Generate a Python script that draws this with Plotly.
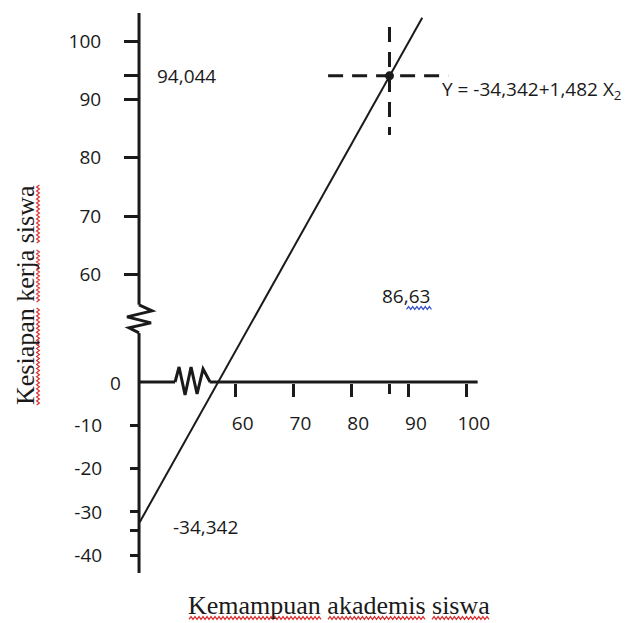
import plotly.graph_objects as go

# ---- data ----
x_ticks = [60, 70, 80, 90, 100]
y_upper_ticks = [60, 70, 80, 90, 100]
y_lower_ticks = [-10, -20, -30, -40]
intercept = -34.342
slope = 1.482
x_point = 86.63
y_point = 94.044
# regression line as drawn (upper y scale)
line_x = [43.4, 92.3]
line_y = [17.6, 104.0]
# axis geometry (data units)
y_axis_x = 43.26
y_axis_upper = [104.8, 54.8]   # upper scale
y_axis_lower = [11.3, -44.1]   # lower scale
x_axis_seg1 = [43.26, 49.5]
x_axis_seg2 = [55.5, 101.9]
h_dash_x = [76.0, 96.8]
v_dash_y = [102.4, 83.9]

equation = "Y = -34,342+1,482 X<sub>2</sub>"
x_title = "Kemampuan akademis siswa"
y_title = "Kesiapan kerja siswa"

W, H = 633, 623
ink = "#1a1a1a"
sans = "Open Sans"
serif = "Liberation Serif"

fig = go.Figure()

# axis lines
fig.add_trace(go.Scatter(x=[y_axis_x, y_axis_x], y=y_axis_upper, mode="lines",
                         line=dict(color=ink, width=3), yaxis="y", hoverinfo="skip"))
fig.add_trace(go.Scatter(x=[y_axis_x, y_axis_x], y=y_axis_lower, mode="lines",
                         line=dict(color=ink, width=3), yaxis="y2", hoverinfo="skip"))
fig.add_trace(go.Scatter(x=x_axis_seg1, y=[0, 0], mode="lines",
                         line=dict(color=ink, width=3), yaxis="y2", hoverinfo="skip"))
fig.add_trace(go.Scatter(x=x_axis_seg2, y=[0, 0], mode="lines",
                         line=dict(color=ink, width=3), yaxis="y2", hoverinfo="skip"))

# regression line
fig.add_trace(go.Scatter(x=line_x, y=line_y, mode="lines",
                         line=dict(color=ink, width=2), yaxis="y", hoverinfo="skip"))
# dashed guide lines
fig.add_trace(go.Scatter(x=h_dash_x, y=[y_point, y_point], mode="lines",
                         line=dict(color=ink, width=3, dash="15px,9px"), yaxis="y"))
fig.add_trace(go.Scatter(x=[x_point, x_point], y=v_dash_y, mode="lines",
                         line=dict(color=ink, width=3, dash="15px,10px"), yaxis="y"))
# point
fig.add_trace(go.Scatter(x=[x_point], y=[y_point], mode="markers",
                         marker=dict(color=ink, size=9), yaxis="y"))
# carriers for the unlabeled marker-ticks (94,044 / -34,342 / 86,63)
fig.add_trace(go.Scatter(x=[x_point], y=[y_point], mode="markers", xaxis="x2", yaxis="y3",
                         marker=dict(size=1, opacity=0), hoverinfo="skip"))
fig.add_trace(go.Scatter(x=[y_axis_x], y=[intercept], mode="markers", xaxis="x", yaxis="y4",
                         marker=dict(size=1, opacity=0), hoverinfo="skip"))

# zigzag breaks (pixel-sized paths anchored on the axes)
fig.add_shape(type="path", xref="x", yref="y", xsizemode="pixel", ysizemode="pixel",
              xanchor=y_axis_x, yanchor=y_axis_upper[1],
              path="M0,0 L13,-6 L-12,-12 L12,-18 L-10,-23 L0,-28",
              line=dict(color=ink, width=3))
fig.add_shape(type="path", xref="x", yref="y2", xsizemode="pixel", ysizemode="pixel",
              xanchor=x_axis_seg1[1], yanchor=0,
              path="M0,0 L4,15 L10,-13 L16,15 L22,-12 L28,13 L35,0",
              line=dict(color=ink, width=3))


def squiggle(a, b, c, horizontal=True, period=4.0, amp=1.4):
    """wavy spell-check underline from a to b at offset c (pixels)."""
    pts = []
    n = int(abs(b - a) / (period / 2))
    for i in range(n + 1):
        t = a + (b - a) * i / n
        d = c + (amp if i % 2 else -amp)
        pts.append((t, d) if horizontal else (d, t))
    return "M" + " L".join(f"{p[0]:.1f},{p[1]:.1f}" for p in pts)


# annotations
ann_font = dict(family=sans, size=19, color=ink)
fig.add_annotation(x=y_axis_x, y=y_point, yref="y", text="94,044", showarrow=False,
                   xanchor="left", xshift=16, font=ann_font)
fig.add_annotation(x=y_axis_x, y=intercept, yref="y2", text="-34,342", showarrow=False,
                   xanchor="left", xshift=32, yshift=4, font=ann_font)
fig.add_annotation(x=x_point, y=0, yref="y2", text="86,63", showarrow=False,
                   xshift=17, yshift=86, font=ann_font)
fig.add_annotation(x=x_point, y=y_point, yref="y", text=equation, showarrow=False,
                   xanchor="left", xshift=51, yshift=-14, font=ann_font)
fig.add_annotation(x=y_axis_x, y=0, yref="y2", text="0", showarrow=False,
                   xanchor="right", xshift=-16, yshift=-1, font=ann_font)
# blue wavy underline under "63"
fig.add_shape(type="path", xref="x", yref="y2", xsizemode="pixel", ysizemode="pixel",
              xanchor=x_point, yanchor=0, path=squiggle(17, 42, 74),
              line=dict(color="#3a55c8", width=1.2))

OFF = 8  # page body margin in the browser
xt_x, xt_y = (339 - OFF) / W, 1 - (605 - OFF) / H
yt_x, yt_y = (25 - OFF) / W, 1 - (295 - OFF) / H
fig.add_annotation(xref="paper", yref="paper", x=xt_x, y=xt_y, text=x_title,
                   xanchor="center", yanchor="middle",
                   showarrow=False, font=dict(family=serif, size=26, color=ink))
fig.add_annotation(xref="paper", yref="paper", x=yt_x, y=yt_y, text=y_title,
                   xanchor="center", yanchor="middle",
                   showarrow=False, textangle=-90, font=dict(family=serif, size=26, color=ink))
red = "#d93030"
for a, b in [(-150, -18), (-11, 86), (93, 150)]:
    fig.add_shape(type="path", xref="paper", yref="paper", xsizemode="pixel", ysizemode="pixel",
                  xanchor=xt_x, yanchor=xt_y, path=squiggle(a, b, -13),
                  line=dict(color=red, width=1.2))
for a, b in [(-110, -13), (-7, 45), (52, 110)]:
    fig.add_shape(type="path", xref="paper", yref="paper", xsizemode="pixel", ysizemode="pixel",
                  xanchor=yt_x, yanchor=yt_y, path=squiggle(a, b, 13, horizontal=False),
                  line=dict(color=red, width=1.2))

# axis ranges matched to the reference pixel layout (with the page offset)
px_per_x = 5.775
px_per_up = 5.835
px_per_lo = 4.33
x_range = [80 + (OFF - 351.2) / px_per_x, 80 + (OFF + W - 351.2) / px_per_x]
y_range = [80 - (OFF + H - 157.8) / px_per_up, 80 + (157.8 - OFF) / px_per_up]
y2_range = [-20 - (OFF + H - 468.6) / px_per_lo, -20 + (468.6 - OFF) / px_per_lo]

x_pos = 1 - (383 - OFF) / H
y_pos = (139 - OFF) / W
tick_font = dict(family=sans, size=19, color=ink)
common = dict(domain=[0, 1], anchor="free", showgrid=False, zeroline=False, showline=False,
              tickmode="array", ticks="outside", tickwidth=3, tickcolor=ink,
              tickfont=tick_font, automargin=False, fixedrange=True)

fig.update_layout(
    width=W, height=H, autosize=False,
    margin=dict(l=0, r=0, t=0, b=0),
    paper_bgcolor="white", plot_bgcolor="white",
    showlegend=False,
    xaxis=dict(common, range=x_range, position=x_pos,
               tickvals=x_ticks, ticktext=[str(v) for v in x_ticks],
               ticklen=13, ticklabelstandoff=10, ticklabelshift=7),
    xaxis2=dict(common, range=x_range, position=x_pos, overlaying="x",
                tickvals=[x_point], ticklen=10, showticklabels=False),
    yaxis=dict(common, range=y_range, position=y_pos,
               tickvals=y_upper_ticks, ticktext=[str(v) for v in y_upper_ticks],
               ticklen=15, ticklabelstandoff=19),
    yaxis2=dict(common, range=y2_range, position=y_pos, overlaying="y", side="left",
                tickvals=y_lower_ticks, ticktext=[str(v) for v in y_lower_ticks],
                ticklen=9, ticklabelstandoff=24),
    yaxis3=dict(common, range=y_range, position=y_pos, overlaying="y", side="left",
                tickvals=[y_point], ticklen=15, showticklabels=False),
    yaxis4=dict(common, range=y2_range, position=y_pos, overlaying="y", side="left",
                tickvals=[intercept], ticklen=9, showticklabels=False),
)

fig.write_html("out.html")
